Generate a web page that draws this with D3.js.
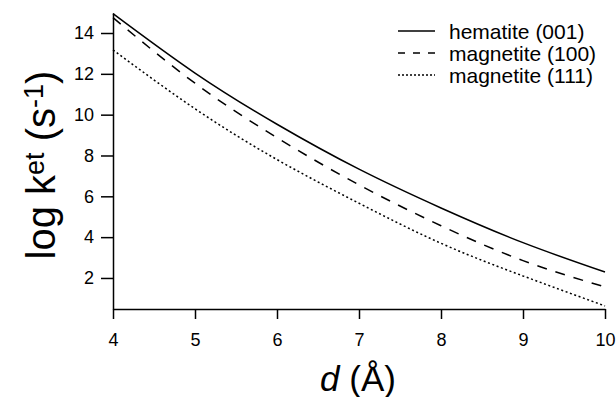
<!DOCTYPE html>
<html>
<head>
<meta charset="utf-8">
<script src="https://cdn.jsdelivr.net/npm/d3@7"></script>
<style>
  body { margin: 0; background: #fff; }
  svg { display: block; font-family: "Liberation Sans", Arial, sans-serif; }
</style>
</head>
<body>
<div id="chart"></div>
<script>
// distance d (Angstrom)
const dVals = [4, 5, 6, 7, 8, 9, 10]
// log k_et for each surface
const hematite001 = [14.95, 12.04, 9.53, 7.33, 5.43, 3.73, 2.29]
const magnetite100 = [14.75, 11.54, 8.87, 6.56, 4.56, 2.85, 1.56]
const magnetite111 = [13.17, 10.29, 7.80, 5.66, 3.70, 2.10, 0.63]
const seriesNames = ['hematite (001)', 'magnetite (100)', 'magnetite (111)']
const xTicks = [4, 5, 6, 7, 8, 9, 10]
const yTicks = [2, 4, 6, 8, 10, 12, 14]

const width = 616
const height = 397
const plotLeft = 113, plotRight = 605, plotTop = 13, plotBottom = 309

const svg = d3.select('#chart')
    .append('svg')
    .attr('width', width)
    .attr('height', height)

const x = d3.scaleLinear().domain([4, 10]).range([plotLeft, plotRight])
const y = d3.scaleLinear().domain([0.48, 14.98]).range([plotBottom, plotTop])

const styles = [
    { dash: null, legendDash: null },
    { dash: '10,9', legendDash: '7,8' },
    { dash: '2,2.6', legendDash: '2,2' }
]
const allSeries = [hematite001, magnetite100, magnetite111]

const line = d3.line()
    .x((v, i) => x(dVals[i]))
    .y(v => y(v))
    .curve(d3.curveNatural)

allSeries.forEach((s, i) => {
    svg.append('path')
        .datum(s)
        .attr('d', line)
        .attr('fill', 'none')
        .attr('stroke', '#000')
        .attr('stroke-width', 1.5)
        .attr('stroke-dasharray', styles[i].dash)
})

// axes
const xAxis = svg.append('g')
    .attr('transform', `translate(0,${plotBottom})`)
    .call(d3.axisBottom(x).tickValues(xTicks).tickSize(10).tickSizeOuter(0).tickFormat(d3.format('d')))
const yAxis = svg.append('g')
    .attr('transform', `translate(${plotLeft},0)`)
    .call(d3.axisLeft(y).tickValues(yTicks).tickSize(12).tickSizeOuter(0).tickFormat(d3.format('d')))

;[xAxis, yAxis].forEach(g => {
    g.select('.domain').attr('stroke', '#000').attr('stroke-width', 1.5)
    g.selectAll('.tick line').attr('stroke', '#000').attr('stroke-width', 1.5)
    g.selectAll('.tick text')
        .attr('fill', '#000')
        .style('font-size', '18px')
        .style('font-family', '"Liberation Sans", Arial, sans-serif')
})
xAxis.selectAll('.tick text').attr('y', 24)
yAxis.selectAll('.tick text').attr('x', -19)

// axis titles
svg.append('text')
    .attr('x', 358)
    .attr('y', 391)
    .attr('text-anchor', 'middle')
    .style('font-size', '35px')
    .call(t => {
        t.append('tspan').attr('font-style', 'italic').text('d')
        t.append('tspan').text(' (Å)')
    })

const yl = svg.append('text')
    .attr('transform', 'translate(55,165) rotate(-90)')
    .attr('text-anchor', 'middle')
    .style('font-size', '40px')
yl.append('tspan').text('log k')
yl.append('tspan').attr('dy', -11).style('font-size', '27px').text('et')
yl.append('tspan').attr('dy', 11).text(' (s')
yl.append('tspan').attr('dy', -12).style('font-size', '27px').text('-1')
yl.append('tspan').attr('dy', 12).text(')')

// legend
const legend = svg.append('g')
seriesNames.forEach((name, i) => {
    const ly = 31 + i * 22
    legend.append('line')
        .attr('x1', 398).attr('x2', 435)
        .attr('y1', ly).attr('y2', ly)
        .attr('stroke', '#000')
        .attr('stroke-width', 1.5)
        .attr('stroke-dasharray', styles[i].legendDash)
    legend.append('text')
        .attr('x', 449)
        .attr('y', ly + 8)
        .style('font-size', '21px')
        .text(name)
})
</script>
</body>
</html>
